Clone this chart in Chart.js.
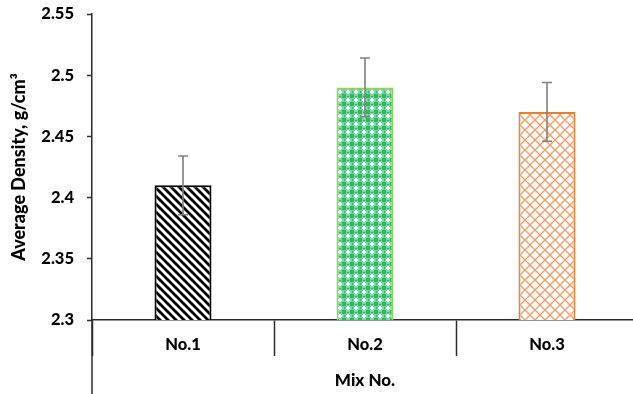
<!DOCTYPE html>
<html>
<head>
<meta charset="utf-8">
<script src="https://cdn.jsdelivr.net/npm/chart.js@4.4.1/dist/chart.umd.min.js"></script>
<style>
  html, body { margin: 0; padding: 0; background: #fff; overflow: hidden; }
  #wrap { width: 633px; height: 394px; overflow: hidden; }
</style>
</head>
<body>
<div id="wrap"><canvas id="chart" width="640" height="394"></canvas></div>
<script>
let mixes = ["No.1", "No.2", "No.3"];
let density = [2.41, 2.49, 2.47];
let densityErr = [0.024, 0.024, 0.024];
let yTicks = ["2.3", "2.35", "2.4", "2.45", "2.5", "2.55"];

let axisColor = "#2b2b2b";
let fontName = "Lato, 'Open Sans', sans-serif";

function makePattern(size, drawTile) {
  let c = document.createElement("canvas");
  c.width = size;
  c.height = size;
  let g = c.getContext("2d");
  drawTile(g, size);
  return document.getElementById("chart").getContext("2d").createPattern(c, "repeat");
}

// black "\" stripes
let stripes = makePattern(8, (g, s) => {
  g.fillStyle = "#fff";
  g.fillRect(0, 0, s, s);
  g.strokeStyle = "#000";
  g.lineWidth = 2.8;
  g.beginPath();
  g.moveTo(-2, -2); g.lineTo(s + 2, s + 2);
  g.moveTo(-2, s - 2); g.lineTo(2, s + 2);
  g.moveTo(s - 2, -2); g.lineTo(s + 2, 2);
  g.stroke();
});

// green grid with white crosses
let greenGrid = makePattern(8, (g, s) => {
  g.fillStyle = "#7ad6a0";
  g.fillRect(0, 0, s, s);
  g.fillStyle = "#2fb468";
  g.fillRect(0, 0, 2, 2);
  g.fillRect(6, 0, 2, 2);
  g.fillRect(0, 6, 2, 2);
  g.fillRect(6, 6, 2, 2);
  g.fillRect(3, 0, 2, 1);
  g.fillRect(0, 3, 1, 2);
  g.fillStyle = "#f4fcf7";
  g.fillRect(3, 2, 2, 4);
  g.fillRect(2, 3, 4, 2);
});

// orange diamond lattice
let diamonds = makePattern(10, (g, s) => {
  g.fillStyle = "#fff";
  g.fillRect(0, 0, s, s);
  g.strokeStyle = "#f39a62";
  g.lineWidth = 1.3;
  g.beginPath();
  g.moveTo(0, s / 2); g.lineTo(s / 2, 0); g.lineTo(s, s / 2); g.lineTo(s / 2, s); g.closePath();
  g.stroke();
});

let errorBars = {
  id: "errorBars",
  afterDatasetsDraw(chart) {
    let ctx = chart.ctx;
    let y = chart.scales.y;
    let meta = chart.getDatasetMeta(0);
    ctx.save();
    ctx.strokeStyle = "#7f7f7f";
    ctx.lineWidth = 1.6;
    meta.data.forEach((bar, i) => {
      let top = y.getPixelForValue(density[i] + densityErr[i]);
      let bot = y.getPixelForValue(density[i] - densityErr[i]);
      ctx.beginPath();
      ctx.moveTo(bar.x, top); ctx.lineTo(bar.x, bot);
      ctx.moveTo(bar.x - 5, top); ctx.lineTo(bar.x + 5, top);
      ctx.moveTo(bar.x - 5, bot); ctx.lineTo(bar.x + 5, bot);
      ctx.stroke();
    });
    ctx.restore();
  }
};

// y axis line runs on down past the category labels
let axisTail = {
  id: "axisTail",
  afterDraw(chart) {
    let ctx = chart.ctx;
    let a = chart.chartArea;
    ctx.save();
    ctx.strokeStyle = axisColor;
    ctx.lineWidth = 1.5;
    ctx.beginPath();
    ctx.moveTo(a.left, a.bottom);
    ctx.lineTo(a.left, chart.height);
    ctx.stroke();
    ctx.restore();
  }
};

new Chart(document.getElementById("chart"), {
  type: "bar",
  data: {
    labels: mixes,
    datasets: [{
      data: density,
      backgroundColor: [stripes, greenGrid, diamonds],
      borderColor: ["#000000", "#92d050", "#ed7d31"],
      borderWidth: 2,
      borderSkipped: false,
      barPercentage: 0.313,
      categoryPercentage: 1
    }]
  },
  options: {
    responsive: false,
    animation: false,
    layout: { padding: { left: 0, top: 14, right: 2, bottom: 0 } },
    plugins: { legend: { display: false }, tooltip: { enabled: false } },
    scales: {
      x: {
        afterFit(scale) { scale.height = 74; },
        grid: { offset: true, drawOnChartArea: false, tickLength: 36, tickColor: axisColor, tickWidth: 1.5 },
        border: { color: axisColor, width: 1.5 },
        ticks: { color: "#000", padding: -21, font: { family: fontName, size: 16.5, weight: "900" } },
        title: { display: true, text: "Mix No.", color: "#000", padding: { top: 0, bottom: 3 }, font: { family: fontName, size: 17, weight: "900" } }
      },
      y: {
        min: 2.3,
        max: 2.55,
        afterFit(scale) {
          scale.width = 92;
          scale.paddingTop = 0;
          scale.paddingBottom = 0;
        },
        grid: { drawOnChartArea: false, tickLength: 5, tickColor: axisColor, tickWidth: 1.5 },
        border: { color: axisColor, width: 1.5 },
        ticks: {
          stepSize: 0.05,
          padding: 13,
          color: "#000",
          font: { family: fontName, size: 16.5, weight: "900" },
          callback: (v, i) => yTicks[i]
        },
        title: { display: true, text: "Average Density, g/cm³", color: "#000", padding: { top: 8, bottom: 0 }, font: { family: fontName, size: 18, weight: "900" } }
      }
    }
  },
  plugins: [errorBars, axisTail]
});
</script>
</body>
</html>
